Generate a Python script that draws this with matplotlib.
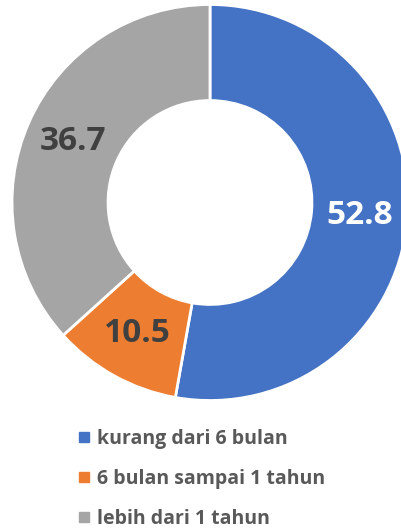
import numpy as np
import matplotlib.pyplot as plt
from matplotlib.lines import Line2D

labels = ['kurang dari 6 bulan', '6 bulan sampai 1 tahun', 'lebih dari 1 tahun']
values = [52.8, 10.5, 36.7]
colors = ['#4472C4', '#ED7D31', '#A5A5A5']
text_colors = ['white', '#404040', '#404040']

plt.rcParams['font.family'] = ['Open Sans', 'DejaVu Sans']

fig = plt.figure(figsize=(4.01, 5.29), dpi=100)
# donut centre around (210, 202) px from top, outer radius 198 px
ax = fig.add_axes([12 / 401, (529 - 202.5 - 198) / 529, 396 / 401, 396 / 529])

wedges, _ = ax.pie(values, colors=colors, startangle=90, counterclock=False,
                   radius=1, wedgeprops=dict(width=0.485, edgecolor='white', linewidth=2))
ax.set_xlim(-1, 1)
ax.set_ylim(-1, 1)
ax.set_aspect('equal')
ax.axis('off')

start = 90.0
for v, tc in zip(values, text_colors):
    mid = np.deg2rad(start - v * 3.6 / 2)
    start -= v * 3.6
    r = 0.758
    ax.text(r * np.cos(mid), r * np.sin(mid), f'{v:.1f}', ha='center', va='center',
            fontsize=24, fontweight='bold', color=tc)

handles = [Line2D([0], [0], marker='s', linestyle='none', markersize=6.5,
                  markerfacecolor=c, markeredgecolor=c) for c in colors]
leg = fig.legend(handles, labels, loc='upper left', bbox_to_anchor=(79 / 401, 1 - 429 / 529),
                 frameon=False, fontsize=14, handlelength=0.55, handletextpad=0.4,
                 labelspacing=1.03, borderpad=0, borderaxespad=0)
for t in leg.get_texts():
    t.set_color('#595959')
    t.set_fontweight('bold')

fig.savefig('out.png', dpi=100)
